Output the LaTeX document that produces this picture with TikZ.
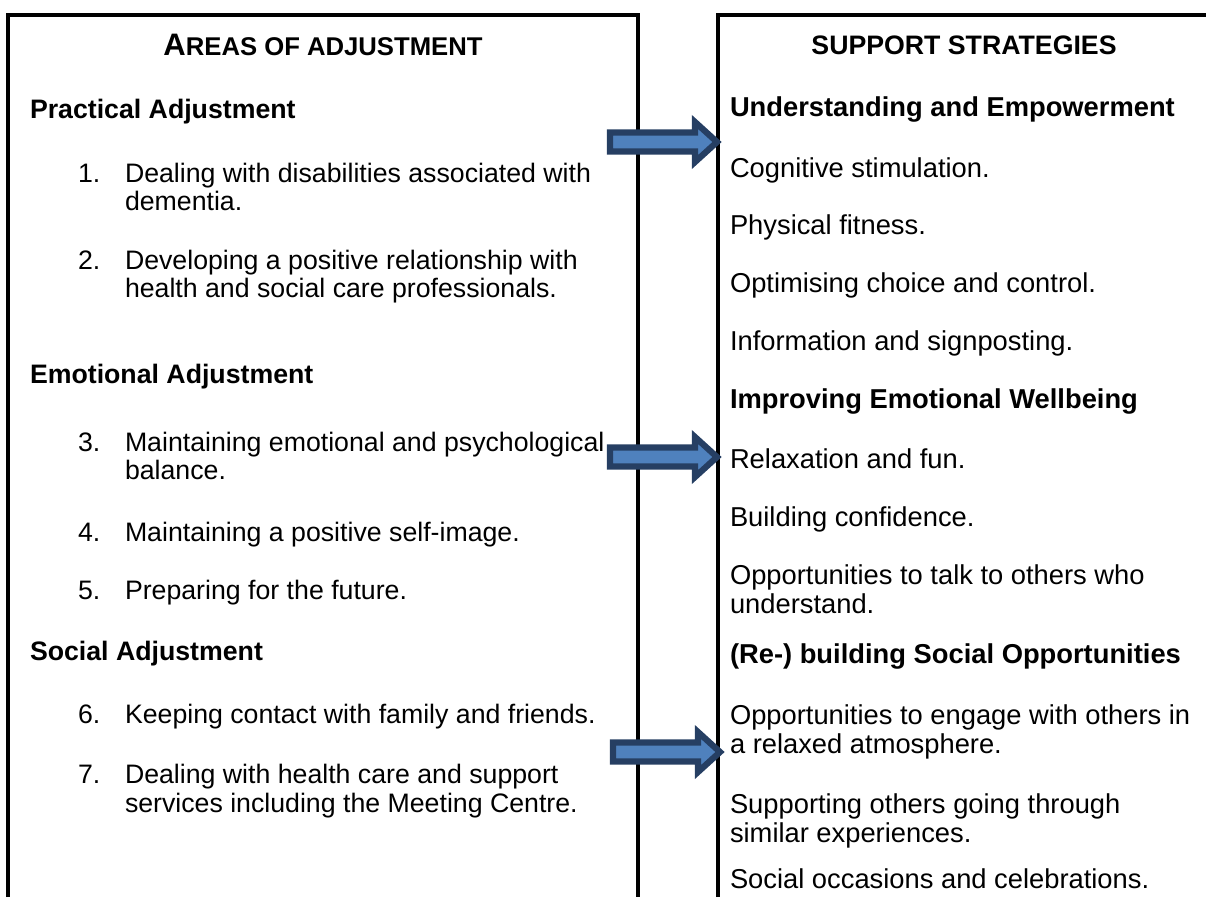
\documentclass[tikz,border=0pt]{standalone}
\usepackage{fontspec}
\setmainfont{Liberation Sans}
\usepackage{tikz}
\usetikzlibrary{positioning}

\definecolor{arrowfill}{HTML}{4F81BD}
\definecolor{arrowline}{HTML}{263F63}

% two lines, top baseline on the node's base
\newcommand{\stacked}[2]{\begin{tabular}[t]{@{}l@{}}#1\\#2\end{tabular}}

\begin{document}
\begin{tikzpicture}[
      x=0.4831pt, y=-0.4831pt,
      font=\fontsize{12.9}{14}\selectfont,
      every node/.style={inner sep=0pt, outer sep=0pt},
      txt/.style={anchor=base west},
      rtxt/.style={txt, font=\fontsize{13.2}{14}\selectfont},
      head/.style={txt, font=\fontsize{12.9}{14}\selectfont\bfseries},
      rhead/.style={txt, font=\fontsize{13.2}{14}\selectfont\bfseries},
      title/.style={anchor=base, font=\fontsize{12.9}{14}\selectfont\bfseries},
      frame/.style={line width=2},
      pics/blockarrow/.style={code={
          \draw[line width=3, draw=arrowline, fill=arrowfill, line join=miter]
            (-107,-9.5) -- (-22,-9.5) -- (-22,-20) -- (0,0)
            -- (-22,20) -- (-22,9.5) -- (-107,9.5) -- cycle;}},
  ]
  \useasboundingbox (0,0) rectangle (1206,897);

  % Two open frames
  \draw[frame] (8,897) -- (8,15) -- (638,15) -- (638,897);
  \draw[frame] (718,897) -- (718,15) -- (1206,15);

  % Left column: areas of adjustment
  \node[title] (areas) at (323,55)
    {\fontsize{15}{16}\selectfont A\fontsize{12.4}{14}\selectfont REAS OF ADJUSTMENT};

  \node[head] (practical) at (30,118) {Practical Adjustment};
  \node[txt]  (n1)    at (78,182)  {1.};
  \node[txt]  (item1) at (125,182) {\stacked{Dealing with disabilities associated with}{dementia.}};
  \node[txt]  (n2)    at (78,269)  {2.};
  \node[txt]  (item2) at (125,269) {\stacked{Developing a positive relationship with}{health and social care professionals.}};

  \node[head] (emotional) at (30,383) {Emotional Adjustment};
  \node[txt]  (n3)    at (78,451)  {3.};
  \node[txt]  (item3) at (125,451) {\stacked{Maintaining emotional and psychological}{balance.}};
  \node[txt]  (n4)    at (78,541)  {4.};
  \node[txt]  (item4) at (125,541) {Maintaining a positive self-image.};
  \node[txt]  (n5)    at (78,599)  {5.};
  \node[txt]  (item5) at (125,599) {Preparing for the future.};

  \node[head] (social) at (30,660) {Social Adjustment};
  \node[txt]  (n6)    at (78,723)  {6.};
  \node[txt]  (item6) at (125,723) {Keeping contact with family and friends.};
  \node[txt]  (n7)    at (78,783)  {7.};
  \node[txt]  (item7) at (125,783) {\stacked{Dealing with health care and support}{services including the Meeting Centre.}};

  % Right column: support strategies
  \node[title] (support) at (964,54) {SUPPORT STRATEGIES};

  \node[rhead] (empower) at (730,116) {Understanding and Empowerment};
  \node[rtxt]  (cogn)    at (730,177) {Cognitive stimulation.};
  \node[rtxt]  (fitness) at (730,234) {Physical fitness.};
  \node[rtxt]  (choice)  at (730,292) {Optimising choice and control.};
  \node[rtxt]  (info)    at (730,350) {Information and signposting.};

  \node[rhead] (wellbeing) at (730,408) {Improving Emotional Wellbeing};
  \node[rtxt]  (relax)     at (730,468) {Relaxation and fun.};
  \node[rtxt]  (confid)    at (730,526) {Building confidence.};
  \node[rtxt]  (talk)      at (730,584) {\stacked{Opportunities to talk to others who}{understand.}};

  \node[rhead] (rebuild)   at (730,663) {(Re-) building Social Opportunities};
  \node[rtxt]  (engage)    at (730,724) {\stacked{Opportunities to engage with others in}{a relaxed atmosphere.}};
  \node[rtxt]  (peers)     at (730,813) {\stacked{Supporting others going through}{similar experiences.}};
  \node[rtxt]  (occasions) at (730,888) {Social occasions and celebrations.};

  % Block arrows across the gap
  \pic (arrA) at (717,142) {blockarrow};
  \pic (arrB) at (717,457) {blockarrow};
  \pic (arrC) at (720,752) {blockarrow};

\end{tikzpicture}
\end{document}
